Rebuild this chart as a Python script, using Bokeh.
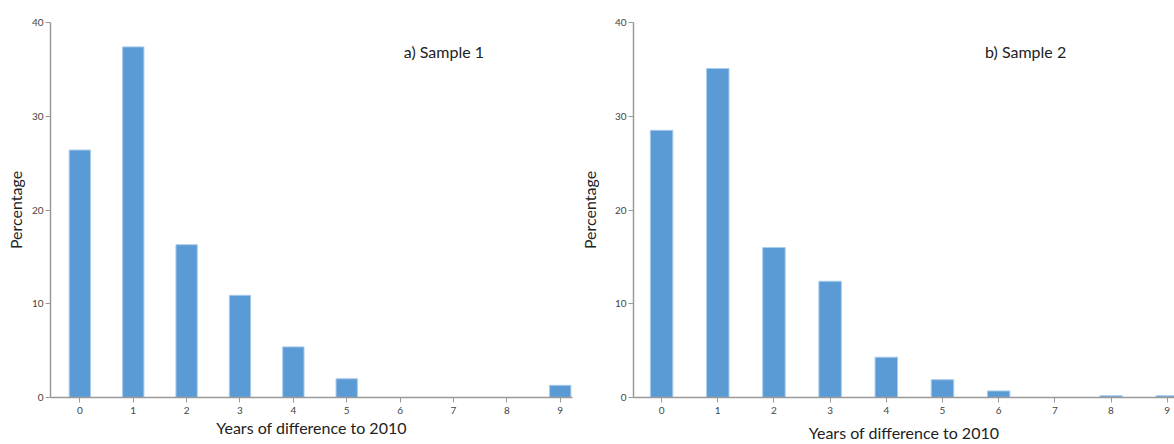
from bokeh.plotting import figure
from bokeh.layouts import row
from bokeh.models import ColumnDataSource, FixedTicker, Range1d, Label
from bokeh.embed import file_html
from bokeh.resources import INLINE

years = [0, 1, 2, 3, 4, 5, 6, 7, 8, 9]
sample1 = [26.4, 37.4, 16.3, 10.9, 5.4, 2.0, 0.0, 0.0, 0.0, 1.3]
sample2 = [28.5, 35.1, 16.0, 12.4, 4.3, 1.9, 0.7, 0.0, 0.18, 0.18]
titles = ["a) Sample 1", "b) Sample 2"]
x_label = "Years of difference to 2010"
y_label = "Percentage"
y_ticks = [0, 10, 20, 30, 40]

FONT = "Lato"
BAR = "#5B9BD5"
EDGE = "#A9CBEC"
AXIS = "#9a9a9a"


def make_panel(vals, title, width, height, xr, border_left, border_right,
               border_top, border_bottom, title_x, title_y,
               ylab_standoff, xlab_standoff):
    p = figure(width=width, height=height, output_backend="svg",
               toolbar_location=None, x_range=Range1d(*xr),
               y_range=Range1d(0, 40),
               min_border_left=border_left, min_border_right=border_right,
               min_border_top=border_top, min_border_bottom=border_bottom)
    src = ColumnDataSource(dict(x=years, top=vals))
    p.vbar(x="x", top="top", bottom=0, width=0.4, source=src,
           fill_color=BAR, line_color=EDGE, line_width=1)
    p.grid.visible = False
    p.outline_line_color = None
    for ax in (p.xaxis, p.yaxis):
        ax.axis_line_color = AXIS
        ax.axis_line_width = 1.5
        ax.major_tick_line_color = AXIS
        ax.major_tick_in = 0
        ax.major_tick_out = 5
        ax.minor_tick_line_color = None
        ax.major_label_text_font = FONT
        ax.major_label_text_font_size = "10px"
        ax.major_label_text_color = "#444444"
        ax.axis_label_text_font = FONT
        ax.axis_label_text_font_size = "16px"
        ax.axis_label_text_font_style = "normal"
        ax.axis_label_text_color = "#222222"
    p.xaxis.ticker = FixedTicker(ticks=years)
    p.yaxis.ticker = FixedTicker(ticks=y_ticks)
    p.xaxis.axis_label = x_label
    p.yaxis.axis_label = y_label
    p.xaxis.major_label_standoff = 4
    p.yaxis.major_label_standoff = 2
    p.xaxis.axis_label_standoff = xlab_standoff
    p.yaxis.axis_label_standoff = ylab_standoff
    p.add_layout(Label(x=title_x, y=title_y, text=title, text_font=FONT,
                       text_font_size="16px", text_color="#222222",
                       text_align="center", text_baseline="middle"))
    return p


p1 = make_panel(sample1, titles[0], 575, 444, (-0.55, 9.23), 50, 3, 16, 44,
                6.82, 36.9, 4, 1)
p2 = make_panel(sample2, titles[1], 599, 444, (-0.5, 9.13), 58, 0, 22, 46,
                6.48, 36.9, 13, 6)

layout = row(p1, p2)
open("out.html", "w").write(file_html(layout, INLINE))
